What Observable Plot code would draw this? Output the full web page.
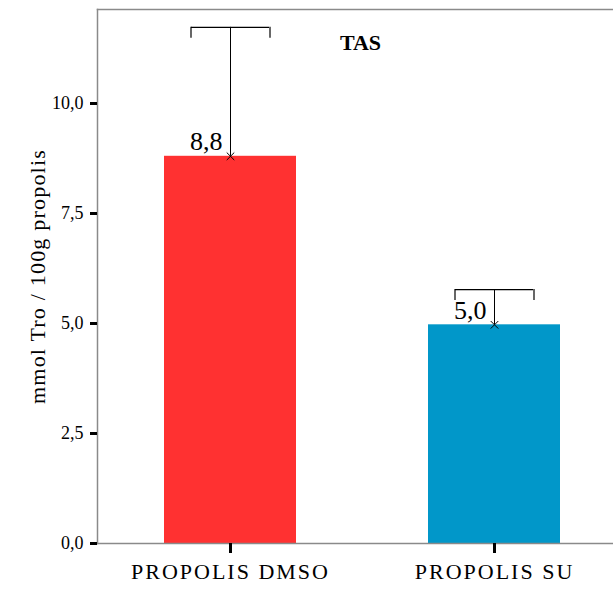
<!DOCTYPE html>
<html><head><meta charset="utf-8">
<script src="https://cdn.jsdelivr.net/npm/d3@7"></script>
<script src="https://cdn.jsdelivr.net/npm/@observablehq/plot@0.6"></script>
<style>
body{margin:0;background:#fff}
g[aria-label="x-axis tick label"] text{letter-spacing:2px}
.ylab text{letter-spacing:1.2px}
</style>
</head><body><div id="chart"></div>
<script>
const groups = ["PROPOLIS DMSO", "PROPOLIS SU"];
const means = [8.8, 4.97];
const upper = [11.73, 5.77];
const labels = ["8,8", "5,0"];
const colors = ["#ff3131", "#0197c9"];
const yTicks = [0, 2.5, 5, 7.5, 10];
const title = "TAS";
const yLabel = "mmol Tro / 100g propolis";

const data = groups.map((g, i) => ({g, mean: means[i], up: upper[i], capEnd: upper[i] - 0.25, label: labels[i]}));
const yMax = 12.136;

const plot = Plot.plot({
  width: 613, height: 589,
  marginLeft: 97, marginTop: 9, marginBottom: 46, marginRight: 0,
  style: {background: "#fff", color: "black", fontFamily: "'Liberation Serif', 'Times New Roman', serif"},
  x: {domain: groups, range: [97, 626], paddingInner: 0.5, paddingOuter: 0.25},
  y: {domain: [0, yMax]},
  color: {domain: groups, range: colors},
  marks: [
    Plot.frame({anchor: "top", stroke: "#8a8a8a", strokeWidth: 1.5}),
    Plot.frame({anchor: "left", stroke: "#8a8a8a", strokeWidth: 1.5}),
    Plot.barY(data, {x: "g", y: "mean", fill: "g"}),
    Plot.frame({anchor: "bottom", stroke: "#8a8a8a", strokeWidth: 1.5}),
    Plot.axisY({ticks: yTicks, tickFormat: d => d.toFixed(1).replace(".", ","), tickSize: 7, tickPadding: 7, strokeWidth: 3, fontSize: 18, label: null}),
    Plot.axisX({tickSize: 10, tickPadding: 10, strokeWidth: 3, fontSize: 22, label: null}),
    Plot.ruleX(data, {x: "g", y1: "mean", y2: "up", stroke: "black", strokeWidth: 1}),
    Plot.tickY(data, {x: "g", y: "up", insetLeft: 27, insetRight: 27, stroke: "black", strokeWidth: 1.2}),
    Plot.ruleX(data, {x: "g", y1: "up", y2: "capEnd", dx: -39.5, stroke: "black", strokeWidth: 1.2}),
    Plot.ruleX(data, {x: "g", y1: "up", y2: "capEnd", dx: 39.5, stroke: "black", strokeWidth: 1.2}),
    Plot.dot(data, {x: "g", y: "mean", symbol: "times", r: 3.5, stroke: "black", strokeWidth: 1}),
    Plot.text(data, {x: "g", y: "mean", text: "label", textAnchor: "end", lineAnchor: "bottom", dx: -8, dy: -6, fontSize: 26, fill: "black"}),
    Plot.text([title], {frameAnchor: "top", dx: 5, dy: 25, fontSize: 22, fontWeight: "bold", fill: "black", lineAnchor: "top"}),
    Plot.text([yLabel], {frameAnchor: "left", textAnchor: "middle", dx: -60, rotate: -90, fontSize: 22, fill: "black", className: "ylab"})
  ]
});
document.getElementById("chart").appendChild(plot);
</script>
</body></html>
